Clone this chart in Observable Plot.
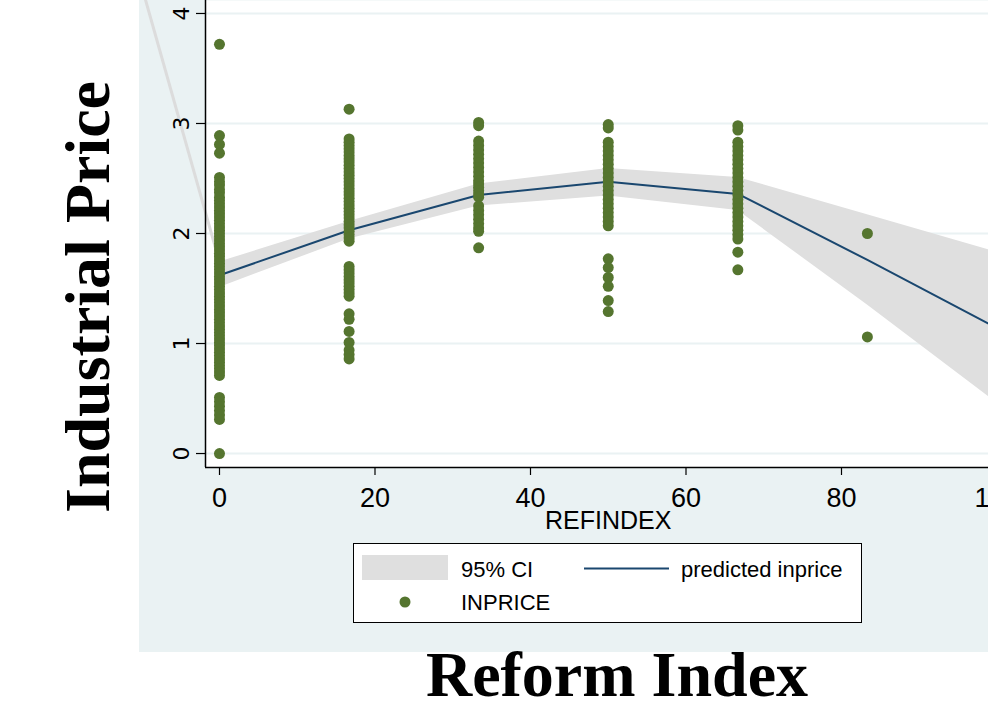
<!DOCTYPE html>
<html><head><meta charset="utf-8">
<script src="https://cdn.jsdelivr.net/npm/d3@7"></script>
<script src="https://cdn.jsdelivr.net/npm/@observablehq/plot@0.6"></script>
<style>
html,body{margin:0;padding:0;background:#fff;overflow:hidden;width:988px;height:701px;}
#panel{position:absolute;left:139px;top:0;width:870px;height:652px;background:#eaf2f3;}
#chart{position:absolute;left:0;top:0;width:1000px;}
#chart svg{max-width:none !important;}
.title{position:absolute;font-family:"Liberation Serif","Times New Roman",serif;font-weight:bold;font-size:64px;line-height:0.8;white-space:nowrap;color:#000;}
#ytitle{left:88px;top:297px;transform:translate(-50%,-50%) rotate(-90deg);}
#xtitle{left:617px;top:675px;transform:translate(-50%,-50%);}
#legend{position:absolute;left:353px;top:543px;width:507px;height:78px;border:1px solid #000;background:#fff;}
#legend text{font-family:"Liberation Sans",Arial,sans-serif;font-size:22px;fill:#000;}
</style>
</head><body>
<div id="panel"></div>
<div id="chart"></div>
<div id="ytitle" class="title">Industrial Price</div>
<div id="xtitle" class="title">Reform Index</div>
<div id="legend">
<svg width="507" height="78">
<rect x="8" y="11" width="86" height="25" fill="#dfdfdf"/>
<text x="107" y="33">95% CI</text>
<line x1="230" x2="315" y1="24.5" y2="24.5" stroke="#1a476f" stroke-width="2"/>
<text x="327" y="33">predicted inprice</text>
<circle cx="51" cy="58" r="5.5" fill="#55752f"/>
<text x="107" y="66">INPRICE</text>
</svg>
</div>
<script>
// Reform index values (x) of each column of observations
const refIndex = [0, 16.67, 33.33, 50, 66.67, 83.33];
// INPRICE observations per column
const inprice0 = [3.72, 2.89, 2.81, 2.73, 2.51, 2.47, 2.44, 2.40, 2.37, 2.33, 2.30, 2.27, 2.24, 2.21, 2.18, 2.15, 2.12, 2.09, 2.06, 2.03, 2.00, 1.97, 1.94, 1.91, 1.88, 1.85, 1.82, 1.79, 1.76, 1.73, 1.70, 1.67, 1.64, 1.61, 1.58, 1.55, 1.52, 1.49, 1.46, 1.43, 1.40, 1.37, 1.34, 1.31, 1.28, 1.25, 1.22, 1.19, 1.16, 1.13, 1.10, 1.07, 1.04, 1.01, 0.98, 0.95, 0.92, 0.89, 0.86, 0.83, 0.80, 0.77, 0.74, 0.71, 0.51, 0.47, 0.43, 0.39, 0.35, 0.31, 0.00];
const inprice17 = [3.13, 2.86, 2.83, 2.80, 2.77, 2.74, 2.71, 2.68, 2.65, 2.62, 2.59, 2.56, 2.53, 2.50, 2.47, 2.44, 2.41, 2.38, 2.35, 2.32, 2.29, 2.26, 2.23, 2.20, 2.17, 2.14, 2.11, 2.08, 2.05, 2.02, 1.99, 1.96, 1.93, 1.70, 1.67, 1.64, 1.61, 1.58, 1.55, 1.52, 1.49, 1.46, 1.43, 1.27, 1.22, 1.11, 1.01, 0.94, 0.90, 0.86];
const inprice33 = [3.01, 2.98, 2.84, 2.80, 2.76, 2.72, 2.68, 2.64, 2.60, 2.56, 2.52, 2.48, 2.45, 2.42, 2.39, 2.36, 2.33, 2.25, 2.21, 2.17, 2.13, 2.09, 2.05, 2.02, 1.87];
const inprice50 = [2.99, 2.96, 2.83, 2.79, 2.75, 2.71, 2.67, 2.63, 2.59, 2.55, 2.51, 2.47, 2.43, 2.39, 2.35, 2.31, 2.27, 2.23, 2.19, 2.15, 2.11, 2.07, 1.77, 1.69, 1.60, 1.52, 1.39, 1.29];
const inprice67 = [2.98, 2.94, 2.83, 2.79, 2.75, 2.71, 2.67, 2.63, 2.59, 2.55, 2.51, 2.47, 2.43, 2.39, 2.35, 2.31, 2.27, 2.23, 2.19, 2.15, 2.11, 2.07, 2.03, 1.99, 1.95, 1.83, 1.67];
const inprice83 = [2.00, 1.06];
const inpriceCols = [inprice0, inprice17, inprice33, inprice50, inprice67, inprice83];

// Predicted inprice and 95% CI
const fitX  = [0, 16.67, 33.33, 50, 66.67, 83.33, 100];
const fitY  = [1.62, 2.03, 2.35, 2.47, 2.36, 1.76, 1.14];
const ciLo  = [1.51, 1.95, 2.25, 2.34, 2.21, 1.35, 0.46];
const ciHi  = [1.74, 2.11, 2.45, 2.59, 2.51, 2.17, 1.83];
// stray CI edge outside plot region (top-left)
const strayX = [-9.5, 0];
const strayY = [4.12, 1.74];

const xTicks = [0, 20, 40, 60, 80, 100];
const yTicks = [0, 1, 2, 3, 4];
const xDomain = [-1.8, 100.45];
const yDomain = [-0.127, 4.118];

const points = inpriceCols.flatMap((col, i) => col.map(v => ({x: refIndex[i], y: v})));
const fit = fitX.map((x, i) => ({x, y: fitY[i], lo: ciLo[i], hi: ciHi[i]}));
const stray = strayX.map((x, i) => ({x, y: strayY[i]}));

const W = 1000, H = 540, bottom = 467;
const chart = Plot.plot({
  width: W, height: H,
  marginLeft: 205, marginRight: 0, marginTop: 0, marginBottom: H - bottom,
  x: {domain: xDomain, axis: null},
  y: {domain: yDomain, axis: null},
  style: {background: "transparent", overflow: "visible", maxWidth: "none"},
  marks: [
    Plot.frame({fill: "white", stroke: null}),
    Plot.gridY(yTicks, {stroke: "#eaf2f3", strokeOpacity: 1, strokeWidth: 2}),
    Plot.areaY(fit, {x: "x", y1: "lo", y2: "hi", fill: "#dfdfdf", clip: true}),
    Plot.line(stray, {x: "x", y: "y", stroke: "#dcdcdc", strokeWidth: 3}),
    Plot.line(fit, {x: "x", y: "y", stroke: "#1a476f", strokeWidth: 2, clip: true}),
    Plot.dot(points, {x: "x", y: "y", r: 5.5, fill: "#55752f", stroke: null}),
    Plot.ruleX([xDomain[0]], {stroke: "#000", strokeWidth: 1.5}),
    Plot.ruleY([yDomain[0]], {stroke: "#000", strokeWidth: 1.5}),
    Plot.axisY({ticks: yTicks, tickSize: 9, tickFormat: () => "", label: null, stroke: "#000", strokeWidth: 1.2}),
    Plot.axisX({ticks: xTicks, tickSize: 8, tickFormat: () => "", label: null, stroke: "#000", strokeWidth: 1.2}),
    Plot.text(yTicks, {y: d => d, text: d => String(d), frameAnchor: "left", dx: -24, rotate: -90,
      textAnchor: "middle", lineAnchor: "middle", fontSize: 22, fontFamily: "DejaVu Sans", fill: "#000"}),
    Plot.text(xTicks, {x: d => d, text: d => String(d), frameAnchor: "bottom", dy: 31,
      textAnchor: "middle", lineAnchor: "middle", fontSize: 27, fontFamily: "Liberation Sans", fill: "#000", ariaLabel: "xtick-labels"}),
    Plot.text(["REFINDEX"], {x: () => 50, text: d => d, frameAnchor: "bottom", dy: 53,
      textAnchor: "middle", lineAnchor: "middle", fontSize: 25, fontFamily: "Liberation Sans", fill: "#000", ariaLabel: "xtitle"})
  ]
});
document.getElementById("chart").appendChild(chart);
// condense the horizontal axis texts (as in the reference)
for (const label of ["xtick-labels", "xtitle"]) {
  chart.querySelectorAll(`g[aria-label="${label}"] text`).forEach(t => {
    const bb = t.getBBox();
    const cx = bb.x + bb.width / 2;
    const prev = t.getAttribute("transform") || "";
    t.setAttribute("transform", `${prev} translate(${cx},0) scale(0.84,1) translate(${-cx},0)`);
  });
}
</script>
</body></html>
